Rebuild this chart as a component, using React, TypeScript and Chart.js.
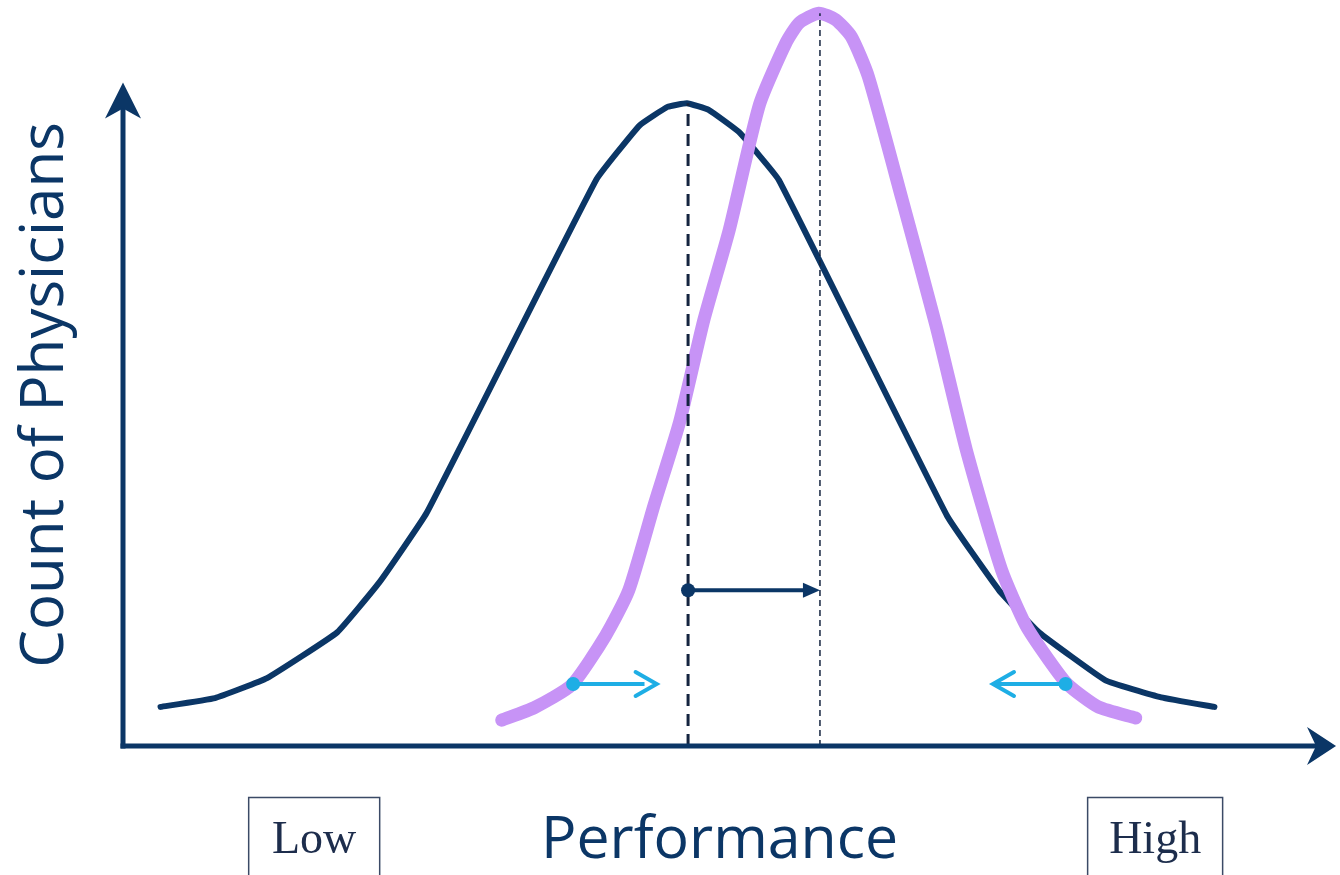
import React, { useEffect, useRef } from "react";
import { Chart, registerables } from "chart.js";

Chart.register(...registerables);

// Baseline distribution (performance score vs count of physicians)
const baselineX = [3.1, 7.6, 11.9, 17.7, 21.2, 25.1, 39.1, 42.7, 45.0, 46.6, 48.4, 50.9, 54.2, 68.1, 72.4, 75.7, 81.2, 85.8, 90.2];
const baselineY = [5.3, 6.5, 9.2, 15.4, 22.2, 31.6, 76.7, 84.1, 86.6, 87.1, 86.2, 83.2, 76.7, 31.2, 21.1, 15.4, 8.9, 6.6, 5.3];

// Improved distribution
const improvedX = [31.3, 34.0, 37.1, 39.9, 41.8, 43.9, 46.0, 48.0, 50.1, 52.6, 54.8, 55.9, 57.5, 58.9, 60.2, 61.6, 64.4, 67.2, 69.7, 72.6, 74.6, 76.5, 78.1, 80.6, 83.7];
const improvedY = [3.5, 5.2, 8.3, 15.0, 21.1, 32.7, 43.9, 57.7, 69.9, 86.9, 95.3, 98.0, 99.3, 98.4, 96.1, 90.7, 74.0, 56.9, 40.1, 23.9, 16.4, 11.7, 8.3, 5.3, 3.8];

// Means / peaks
const baselineMean = 46.7;
const baselinePeak = 87.1;
const improvedMean = 57.6;
const improvedPeak = 99.3;

// Shift arrow
const shiftLevel = 21.1;
// Tail-narrowing arrows
const tailLevel = 8.4;
const leftTail = [37.2, 44.1];
const rightTail = [77.9, 71.9];

// Axis extents
const xAxisTip = 100.25;
const yAxisTip = 89.9;

const axisTitleY = "Count of Physicians";
const axisTitleX = "Performance";
const lowLabel = "Low";
const highLabel = "High";
const lowPos = 15.8;
const highPos = 85.3;
const titlePos = 49.3;

const NAVY = "#0b3666";
const DASH = "#14243f";
const PURPLE = "#c793f6";
const CYAN = "#1eaee5";

const pts = (xs: number[], ys: number[]) => xs.map((x, i) => ({ x, y: ys[i] }));

const overlay = {
  id: "overlay",
  afterDatasetsDraw(chart: any) {
    const { ctx, scales } = chart;
    const X = (v: number) => scales.x.getPixelForValue(v);
    const Y = (v: number) => scales.y.getPixelForValue(v);
    const x0 = X(0);
    const y0 = Y(0);
    ctx.save();

    // Axes
    ctx.strokeStyle = NAVY;
    ctx.fillStyle = NAVY;
    ctx.lineWidth = 5;
    ctx.lineCap = "butt";
    const ty = Y(yAxisTip);
    ctx.beginPath();
    ctx.moveTo(x0, y0 + 2.5);
    ctx.lineTo(x0, ty + 20);
    ctx.stroke();
    ctx.beginPath();
    ctx.moveTo(x0, ty);
    ctx.lineTo(x0 + 18, ty + 36);
    ctx.lineTo(x0, ty + 26);
    ctx.lineTo(x0 - 18, ty + 36);
    ctx.closePath();
    ctx.fill();

    const tx = X(xAxisTip);
    ctx.beginPath();
    ctx.moveTo(x0 - 2.5, y0);
    ctx.lineTo(tx - 18, y0);
    ctx.stroke();
    ctx.beginPath();
    ctx.moveTo(tx, y0);
    ctx.lineTo(tx - 29, y0 - 19);
    ctx.lineTo(tx - 20, y0);
    ctx.lineTo(tx - 29, y0 + 19);
    ctx.closePath();
    ctx.fill();

    // Shift arrow head (filled)
    const sx = X(improvedMean);
    const sy = Y(shiftLevel);
    ctx.fillStyle = NAVY;
    ctx.beginPath();
    ctx.moveTo(sx, sy);
    ctx.lineTo(sx - 17, sy - 7.5);
    ctx.lineTo(sx - 17, sy + 7.5);
    ctx.closePath();
    ctx.fill();

    // Cyan chevrons
    ctx.strokeStyle = CYAN;
    ctx.lineWidth = 4;
    ctx.lineCap = "round";
    ctx.lineJoin = "miter";
    const chevron = (tipV: number, dir: number) => {
      const cx = X(tipV);
      const cy = Y(tailLevel);
      ctx.beginPath();
      ctx.moveTo(cx - dir * 21, cy - 12);
      ctx.lineTo(cx, cy);
      ctx.lineTo(cx - dir * 21, cy + 12);
      ctx.stroke();
    };
    chevron(leftTail[1], 1);
    chevron(rightTail[1], -1);

    // Axis titles
    ctx.fillStyle = NAVY;
    ctx.textAlign = "center";
    ctx.textBaseline = "alphabetic";
    ctx.font = "59px 'Open Sans'";
    ctx.fillText(axisTitleX, X(titlePos), 858);
    ctx.save();
    ctx.translate(63, 395);
    ctx.rotate(-Math.PI / 2);
    ctx.font = "60px 'Open Sans'";
    ctx.fillText(axisTitleY, 0, 0);
    ctx.restore();

    // Low / High boxes
    const box = (label: string, v: number, w: number) => {
      const cx = X(v);
      ctx.strokeStyle = "#3b4a66";
      ctx.lineWidth = 1.5;
      ctx.strokeRect(cx - w / 2, 797.5, w, 90);
      ctx.fillStyle = "#1d2d4c";
      ctx.font = "46px 'Liberation Serif'";
      ctx.textAlign = "center";
      ctx.fillText(label, cx, 853);
    };
    box(lowLabel, lowPos, 131);
    box(highLabel, highPos, 135);

    ctx.restore();
  },
};

export default function App() {
  const ref = useRef<HTMLCanvasElement | null>(null);
  useEffect(() => {
    if (!ref.current) return;
    const chart = new Chart(ref.current, {
      type: "scatter",
      data: {
        datasets: [
          {
            label: "left tail",
            data: [
              { x: leftTail[0], y: tailLevel },
              { x: leftTail[1] - 1, y: tailLevel },
            ],
            showLine: true,
            borderColor: CYAN,
            backgroundColor: CYAN,
            borderWidth: 4,
            pointRadius: [7, 0],
            pointBorderWidth: 0,
            order: 0,
            clip: false,
          } as any,
          {
            label: "right tail",
            data: [
              { x: rightTail[0], y: tailLevel },
              { x: rightTail[1] + 0.1, y: tailLevel },
            ],
            showLine: true,
            borderColor: CYAN,
            backgroundColor: CYAN,
            borderWidth: 4,
            pointRadius: [7, 0],
            pointBorderWidth: 0,
            order: 0,
            clip: false,
          } as any,
          {
            label: "shift",
            data: [
              { x: baselineMean, y: shiftLevel },
              { x: improvedMean - 1, y: shiftLevel },
            ],
            showLine: true,
            borderColor: NAVY,
            backgroundColor: NAVY,
            borderWidth: 4,
            pointRadius: [7, 0],
            pointBorderWidth: 0,
            order: 1,
            clip: false,
          } as any,
          {
            label: "baseline mean",
            data: [
              { x: baselineMean, y: 0 },
              { x: baselineMean, y: baselinePeak },
            ],
            showLine: true,
            borderColor: DASH,
            borderWidth: 3,
            borderDash: [12, 8],
            pointRadius: 0,
            order: 2,
            clip: false,
          } as any,
          {
            label: "improved mean",
            data: [
              { x: improvedMean, y: 0 },
              { x: improvedMean, y: improvedPeak },
            ],
            showLine: true,
            borderColor: DASH,
            borderWidth: 1.5,
            borderDash: [6, 4],
            pointRadius: 0,
            order: 2,
            clip: false,
          } as any,
          {
            label: "improved",
            data: pts(improvedX, improvedY),
            showLine: true,
            borderColor: PURPLE,
            borderWidth: 13,
            borderCapStyle: "round",
            borderJoinStyle: "round",
            tension: 0.2,
            pointRadius: 0,
            order: 3,
            clip: false,
          } as any,
          {
            label: "baseline",
            data: pts(baselineX, baselineY),
            showLine: true,
            borderColor: NAVY,
            borderWidth: 6,
            borderCapStyle: "round",
            borderJoinStyle: "round",
            tension: 0.1,
            pointRadius: 0,
            order: 4,
            clip: false,
          } as any,
        ],
      },
      options: {
        animation: false,
        responsive: false,
        devicePixelRatio: 1,
        layout: { padding: { left: 123, right: 5, top: 8, bottom: 129 } },
        plugins: { legend: { display: false }, tooltip: { enabled: false } },
        events: [],
        scales: {
          x: { type: "linear", min: 0, max: 100, display: false },
          y: { type: "linear", min: 0, max: 100, display: false },
        },
      },
      plugins: [overlay],
    });
    return () => chart.destroy();
  }, []);
  return (
    <div style={{ position: "absolute", left: 0, top: 0, width: 1340, height: 875, background: "#fff" }}>
      <canvas ref={ref} width={1340} height={875} />
    </div>
  );
}
